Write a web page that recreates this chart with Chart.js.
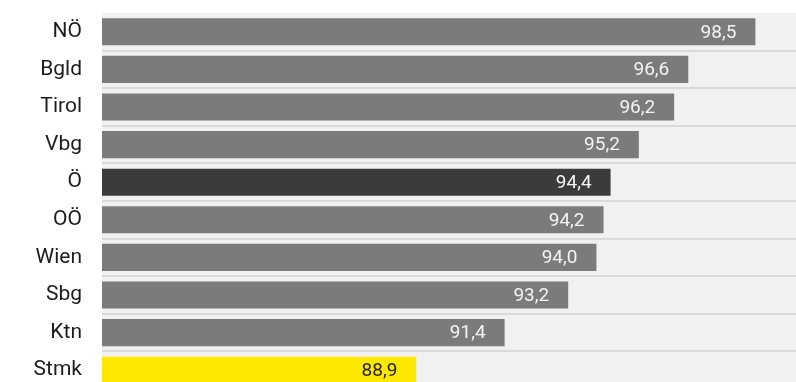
<!DOCTYPE html>
<html>
<head>
<meta charset="utf-8">
<script src="https://cdn.jsdelivr.net/npm/chart.js@4/dist/chart.umd.min.js"></script>
<style>
    html, body { margin: 0; padding: 0; background: #fff; overflow: hidden; }
    #wrap { position: relative; width: 796px; height: 389px; }
</style>
</head>
<body>
<div id="wrap"><canvas id="bars-canvas"></canvas></div>
<script>
let categories = ['NÖ', 'Bgld', 'Tirol', 'Vbg', 'Ö', 'OÖ', 'Wien', 'Sbg', 'Ktn', 'Stmk'];
let values = [98.5, 96.6, 96.2, 95.2, 94.4, 94.2, 94.0, 93.2, 91.4, 88.9];

let axisMin = 80;
let axisMax = 99.65;

// Ö = Austria average (dark), Stmk highlighted yellow
function barColor(name) {
    if (name === 'Ö') return '#3b3b3b';
    if (name === 'Stmk') return '#ffe800';
    return '#7b7b7b';
}

let plotBackground = {
    id: 'plotBackground',
    beforeDraw(chart) {
        let area = chart.chartArea;
        let ctx = chart.ctx;
        ctx.save();
        ctx.fillStyle = '#f1f1f1';
        ctx.fillRect(area.left, area.top, area.right - area.left, area.bottom - area.top);
        ctx.restore();
    }
};

let valueLabels = {
    id: 'valueLabels',
    afterDatasetsDraw(chart) {
        let ctx = chart.ctx;
        let meta = chart.getDatasetMeta(0);
        ctx.save();
        ctx.font = '19px Roboto';
        ctx.textAlign = 'right';
        ctx.textBaseline = 'middle';
        meta.data.forEach((bar, i) => {
            ctx.fillStyle = categories[i] === 'Stmk' ? '#222222' : '#f4f4f4';
            let txt = values[i].toFixed(1).replace('.', ',');
            ctx.fillText(txt, bar.x - 19, bar.y + 1);
        });
        ctx.restore();
    }
};

let config_bars = {
    type: 'bar',
    data: {
        labels: categories,
        datasets: [{
            data: values,
            backgroundColor: categories.map(barColor),
            borderWidth: 0,
            barPercentage: 0.72,
            categoryPercentage: 1
        }]
    },
    options: {
        indexAxis: 'y',
        responsive: true,
        maintainAspectRatio: false,
        animation: false,
        layout: { padding: { top: 13, left: 0, right: 0, bottom: 0 } },
        plugins: {
            legend: { display: false },
            tooltip: { enabled: false }
        },
        scales: {
            x: {
                display: false,
                min: axisMin,
                max: axisMax
            },
            y: {
                afterFit(scale) {
                    scale.width = 102;
                    scale.paddingTop = 0;
                    scale.paddingBottom = 0;
                },
                border: { display: false },
                grid: {
                    offset: true,
                    drawTicks: false,
                    lineWidth: 2,
                    color: (c) => c.index === 0 ? 'rgba(0,0,0,0)' : '#dadada'
                },
                ticks: {
                    padding: 20,
                    color: '#1c1c1c',
                    font: { family: 'Roboto', size: 21 }
                }
            }
        }
    },
    plugins: [plotBackground, valueLabels]
};

let barsChart = new Chart(document.getElementById('bars-canvas'), config_bars);
</script>
</body>
</html>
